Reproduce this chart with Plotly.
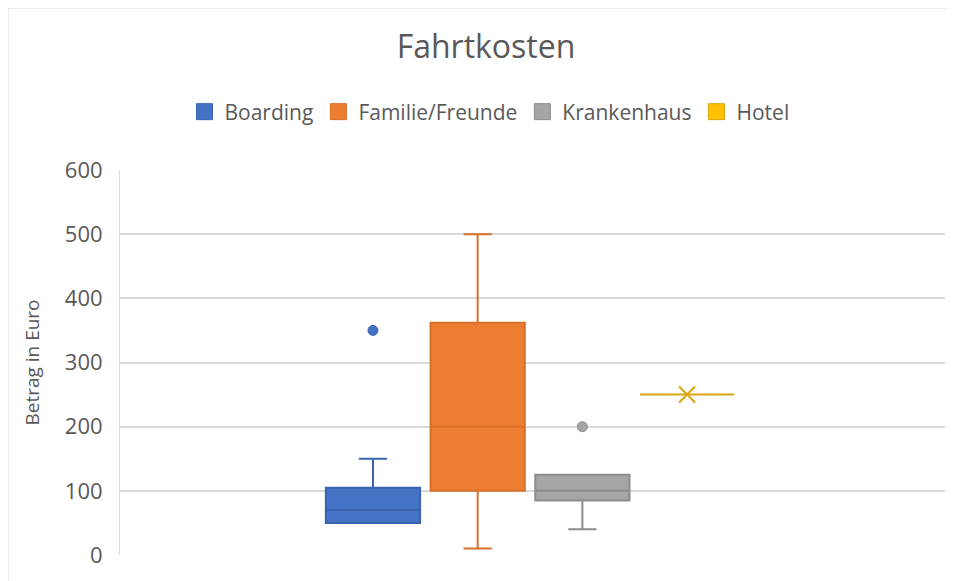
import plotly.graph_objects as go

series = ["Boarding", "Familie/Freunde", "Krankenhaus", "Hotel"]
q1 = [50, 100, 85, 250]
median = [70, 200, 100, 250]
q3 = [105, 362, 125, 250]
lower = [50, 10, 40, 250]
upper = [150, 500, 125, 250]
outliers = [[350], [], [200], []]
means = [None, None, None, 250]

fill_colors = ["#4472C4", "#ED7D31", "#A5A5A5", "#FFC000"]
line_colors = ["#3A64B0", "#D9702A", "#8C8C8C", "#D9A50F"]

fig = go.Figure()
for i, name in enumerate(series):
    fig.add_trace(go.Box(
        name=name, x=[i], q1=[q1[i]], median=[median[i]], q3=[q3[i]],
        lowerfence=[lower[i]], upperfence=[upper[i]],
        fillcolor=fill_colors[i], line=dict(color=line_colors[i], width=2),
        width=0.9, whiskerwidth=0.3, boxpoints=False, showlegend=False,
    ))
    if outliers[i]:
        fig.add_trace(go.Scatter(
            x=[i] * len(outliers[i]), y=outliers[i], mode="markers",
            marker=dict(color=fill_colors[i], size=10,
                        line=dict(color=line_colors[i], width=1)),
            showlegend=False, hoverinfo="y"))
    if means[i] is not None:
        fig.add_trace(go.Scatter(
            x=[i], y=[means[i]], mode="markers",
            marker=dict(symbol="x-thin", size=16,
                        line=dict(color=line_colors[i], width=2)),
            showlegend=False, hoverinfo="y"))

# legend entries (square swatches)
for i, name in enumerate(series):
    fig.add_trace(go.Scatter(
        x=[None], y=[None], mode="markers", name=name,
        marker=dict(symbol="square", size=20, color=fill_colors[i],
                    line=dict(color=line_colors[i], width=1)),
        showlegend=True))

font = "Open Sans"
W, H = 947, 573
L, R, T, B = 112, 10, 162, 26
pw, ph = W - L - R, H - T - B
fig.update_layout(
    width=W, height=H,
    margin=dict(l=L, r=R, t=T, b=B),
    paper_bgcolor="white", plot_bgcolor="white",
    font=dict(family=font, color="#595959"),
    title=dict(text="Fahrtkosten", x=478 / W, xanchor="center", y=1 - 39 / H,
               yanchor="middle", yref="container",
               font=dict(size=32, color="#595959")),
    legend=dict(orientation="h", x=(489.5 - 120) / pw, xanchor="center",
                y=1 + (T - 104) / ph, yanchor="middle",
                font=dict(size=21, color="#595959"), itemclick=False),
    xaxis=dict(range=[-2.416, 5.463], showticklabels=False, showgrid=False,
               zeroline=False, showline=False, fixedrange=True),
    yaxis=dict(range=[0, 600], dtick=100, showgrid=True, gridcolor="#D9D9D9",
               gridwidth=1.5, zeroline=False, showline=True, linecolor="#D9D9D9",
               tickfont=dict(size=22, color="#595959"), ticklabelstandoff=12,
               title=dict(text="Betrag in Euro", standoff=20,
                          font=dict(size=19, color="#595959"))),
    shapes=[dict(type="rect", xref="paper", yref="paper",
                 x0=-(L - 0) / pw, x1=1 + (R + 4) / pw, y0=-(B + 10) / ph,
                 y1=1 + T / ph, line=dict(color="#D9D9D9", width=1))],
)
fig.write_html("out.html")
